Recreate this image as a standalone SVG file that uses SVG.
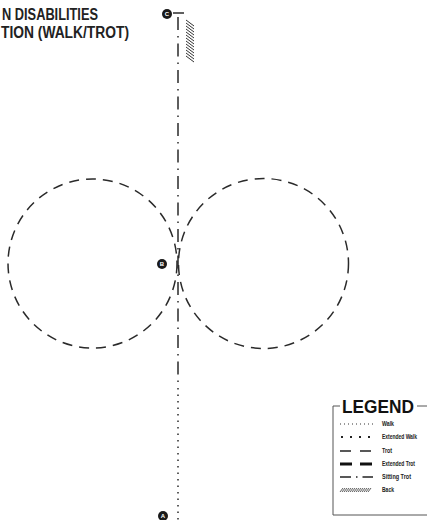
<svg xmlns="http://www.w3.org/2000/svg" width="427" height="520" viewBox="0 0 427 520">
<style>
.title{font-family:"Liberation Sans Narrow","Liberation Sans",Arial,sans-serif;font-weight:bold;font-size:16px;fill:#222}
.mk{fill:#1a1a1a}
.mkt{font-family:"Liberation Sans",Arial,sans-serif;font-weight:bold;font-size:6px;fill:#fff;text-anchor:middle}
.circ{fill:none;stroke:#2a2a2a;stroke-width:1.5;stroke-dasharray:10 7}
.lbl{font-family:"Liberation Sans Narrow","Liberation Sans",Arial,sans-serif;font-weight:bold;font-size:6.5px;fill:#222}
.hatch line{stroke:#333;stroke-width:1}
</style>
<rect width="427" height="520" fill="#fff"/>
<text class="title" x="2" y="20" textLength="96" lengthAdjust="spacingAndGlyphs">N DISABILITIES</text>
<text class="title" x="1" y="38" textLength="128" lengthAdjust="spacingAndGlyphs">TION (WALK/TROT)</text>
<g id="connectors">
<line x1="173" y1="13" x2="184" y2="13" stroke="#2a2a2a" stroke-width="1.5"/>
<line x1="178" y1="13" x2="178" y2="386" stroke="#2a2a2a" stroke-width="1.5" stroke-dasharray="13 6 1.5 6" stroke-dashoffset="-4"/>
<line x1="178" y1="388" x2="178" y2="520" stroke="#2a2a2a" stroke-width="1.5" stroke-dasharray="1.5 5"/>
<circle class="circ" cx="92.5" cy="263.5" r="84.5"/>
<circle class="circ" cx="263.5" cy="263.5" r="85"/>
<g class="hatch">
<line x1="186" y1="20" x2="194" y2="26"/>
<line x1="186" y1="23" x2="194" y2="29"/>
<line x1="186" y1="26" x2="194" y2="32"/>
<line x1="186" y1="29" x2="194" y2="35"/>
<line x1="186" y1="32" x2="194" y2="38"/>
<line x1="186" y1="35" x2="194" y2="41"/>
<line x1="186" y1="38" x2="194" y2="44"/>
<line x1="186" y1="41" x2="194" y2="47"/>
<line x1="186" y1="44" x2="194" y2="50"/>
<line x1="186" y1="47" x2="194" y2="53"/>
<line x1="186" y1="50" x2="194" y2="56"/>
<line x1="186" y1="53" x2="194" y2="59"/>
<line x1="186" y1="56" x2="194" y2="62"/>
</g>
</g>
<g id="marker-C"><circle class="mk" cx="167" cy="14" r="5"/><text class="mkt" x="167" y="16.2">C</text></g>
<g id="marker-B"><circle class="mk" cx="162" cy="264" r="5"/><text class="mkt" x="162" y="266.2">B</text></g>
<g id="marker-A"><circle class="mk" cx="163" cy="516" r="5"/><text class="mkt" x="163" y="518.2">A</text></g>
<g id="legend">
<path d="M340 406 H333 V515 H427" fill="none" stroke="#555" stroke-width="1"/>
<line x1="417" y1="406" x2="427" y2="406" stroke="#555" stroke-width="1"/>
<text x="342" y="413" font-family="Liberation Sans,Arial,sans-serif" font-weight="900" font-size="18" fill="#111" textLength="72" lengthAdjust="spacingAndGlyphs">LEGEND</text>
<line x1="340" y1="424" x2="373" y2="424" stroke="#333" stroke-width="1" stroke-dasharray="1 3"/>
<text class="lbl" x="382" y="426" textLength="12" lengthAdjust="spacingAndGlyphs">Walk</text>
<line x1="341" y1="437" x2="373" y2="437" stroke="#222" stroke-width="2" stroke-dasharray="2 7"/>
<text class="lbl" x="382" y="439" textLength="35" lengthAdjust="spacingAndGlyphs">Extended Walk</text>
<line x1="340" y1="451" x2="373" y2="451" stroke="#222" stroke-width="1.3" stroke-dasharray="11 9"/>
<text class="lbl" x="382" y="453" textLength="10" lengthAdjust="spacingAndGlyphs">Trot</text>
<line x1="340" y1="464" x2="373" y2="464" stroke="#111" stroke-width="3" stroke-dasharray="12 8"/>
<text class="lbl" x="382" y="466" textLength="33" lengthAdjust="spacingAndGlyphs">Extended Trot</text>
<line x1="340" y1="477" x2="373" y2="477" stroke="#222" stroke-width="1.3" stroke-dasharray="11 5 1.5 5"/>
<text class="lbl" x="382" y="479" textLength="29" lengthAdjust="spacingAndGlyphs">Sitting Trot</text>
<g stroke="#333" stroke-width="0.8">
<line x1="340" y1="492" x2="343" y2="488"/><line x1="342" y1="492" x2="345" y2="488"/><line x1="344" y1="492" x2="347" y2="488"/><line x1="346" y1="492" x2="349" y2="488"/><line x1="348" y1="492" x2="351" y2="488"/><line x1="350" y1="492" x2="353" y2="488"/><line x1="352" y1="492" x2="355" y2="488"/><line x1="354" y1="492" x2="357" y2="488"/><line x1="356" y1="492" x2="359" y2="488"/><line x1="358" y1="492" x2="361" y2="488"/><line x1="360" y1="492" x2="363" y2="488"/><line x1="362" y1="492" x2="365" y2="488"/><line x1="364" y1="492" x2="367" y2="488"/><line x1="366" y1="492" x2="369" y2="488"/><line x1="368" y1="492" x2="371" y2="488"/>
</g>
<text class="lbl" x="382" y="492" textLength="12" lengthAdjust="spacingAndGlyphs">Back</text>
</g>
</svg>
